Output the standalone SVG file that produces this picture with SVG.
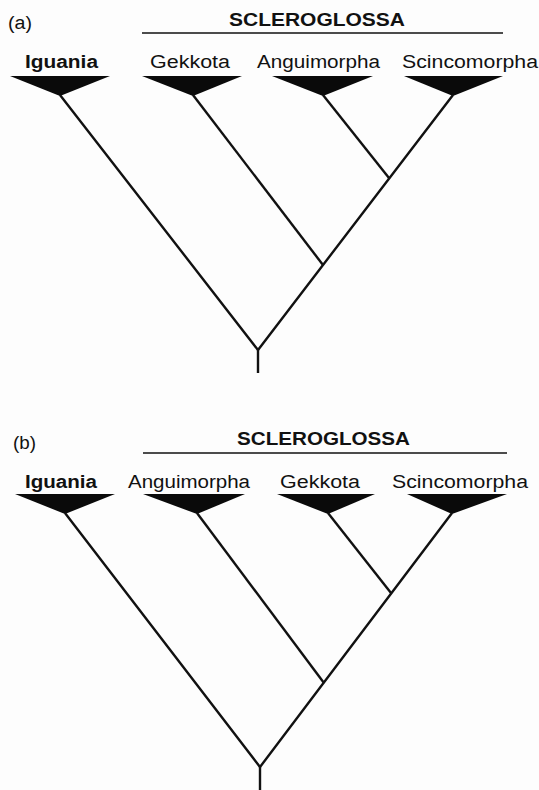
<svg xmlns="http://www.w3.org/2000/svg" width="539" height="790" viewBox="0 0 539 790">
<style>
text{font-family:"Liberation Sans",Arial,sans-serif;font-size:18px;fill:#111;lengthAdjust:spacingAndGlyphs}
.b{font-weight:bold}
.tri{fill:#0a0a0a}
.br{stroke:#111;stroke-width:2.4;fill:none;stroke-linecap:butt;stroke-linejoin:miter}
.bar{stroke:#111;stroke-width:1.6}
</style>
<rect width="539" height="790" fill="#fdfdfd"/>
<g id="panel-a">
  <text id="label-a" x="8" y="29" font-size="17" textLength="24" lengthAdjust="spacingAndGlyphs">(a)</text>
  <g id="a-scleroglossa">
    <text class="b" x="229" y="26" textLength="176" lengthAdjust="spacingAndGlyphs">SCLEROGLOSSA</text>
    <line class="bar" x1="142" y1="33" x2="503" y2="33"/>
  </g>
  <g id="a-iguania">
    <text class="b" x="25" y="68" textLength="73" lengthAdjust="spacingAndGlyphs">Iguania</text>
    <polygon class="tri" points="10,76 110,76 60,96"/>
  </g>
  <g id="a-gekkota">
    <text x="150" y="68" textLength="80" lengthAdjust="spacingAndGlyphs">Gekkota</text>
    <polygon class="tri" points="142,76 242,76 193,96"/>
  </g>
  <g id="a-anguimorpha">
    <text x="257" y="68" textLength="123" lengthAdjust="spacingAndGlyphs">Anguimorpha</text>
    <polygon class="tri" points="272,76 373,76 323,96"/>
  </g>
  <g id="a-scincomorpha">
    <text x="402" y="68" textLength="136" lengthAdjust="spacingAndGlyphs">Scincomorpha</text>
    <polygon class="tri" points="404,76 503,76 453,96"/>
  </g>
  <g id="a-connectors">
    <polyline class="br" points="60,95 258,350 453,95"/>
    <line class="br" x1="193" y1="95" x2="323" y2="265"/>
    <line class="br" x1="323" y1="95" x2="389" y2="178"/>
    <line class="br" x1="258" y1="349" x2="258" y2="373"/>
  </g>
</g>
<g id="panel-b">
  <text id="label-b" x="13" y="449" font-size="17" textLength="23" lengthAdjust="spacingAndGlyphs">(b)</text>
  <g id="b-scleroglossa">
    <text class="b" x="237" y="445" textLength="173" lengthAdjust="spacingAndGlyphs">SCLEROGLOSSA</text>
    <line class="bar" x1="143" y1="453" x2="507" y2="453"/>
  </g>
  <g id="b-iguania">
    <text class="b" x="25" y="488" textLength="72" lengthAdjust="spacingAndGlyphs">Iguania</text>
    <polygon class="tri" points="15,494 115,494 65,514"/>
  </g>
  <g id="b-anguimorpha">
    <text x="128" y="488" textLength="122" lengthAdjust="spacingAndGlyphs">Anguimorpha</text>
    <polygon class="tri" points="143,494 245,494 197,514"/>
  </g>
  <g id="b-gekkota">
    <text x="280" y="488" textLength="80" lengthAdjust="spacingAndGlyphs">Gekkota</text>
    <polygon class="tri" points="277,494 375,494 328,514"/>
  </g>
  <g id="b-scincomorpha">
    <text x="392" y="488" textLength="136" lengthAdjust="spacingAndGlyphs">Scincomorpha</text>
    <polygon class="tri" points="407,494 507,494 452,514"/>
  </g>
  <g id="b-connectors">
    <polyline class="br" points="65,513 260,767 452,513"/>
    <line class="br" x1="197" y1="513" x2="324" y2="683"/>
    <line class="br" x1="328" y1="513" x2="391" y2="593"/>
    <line class="br" x1="260" y1="766" x2="260" y2="790"/>
  </g>
</g>
</svg>
